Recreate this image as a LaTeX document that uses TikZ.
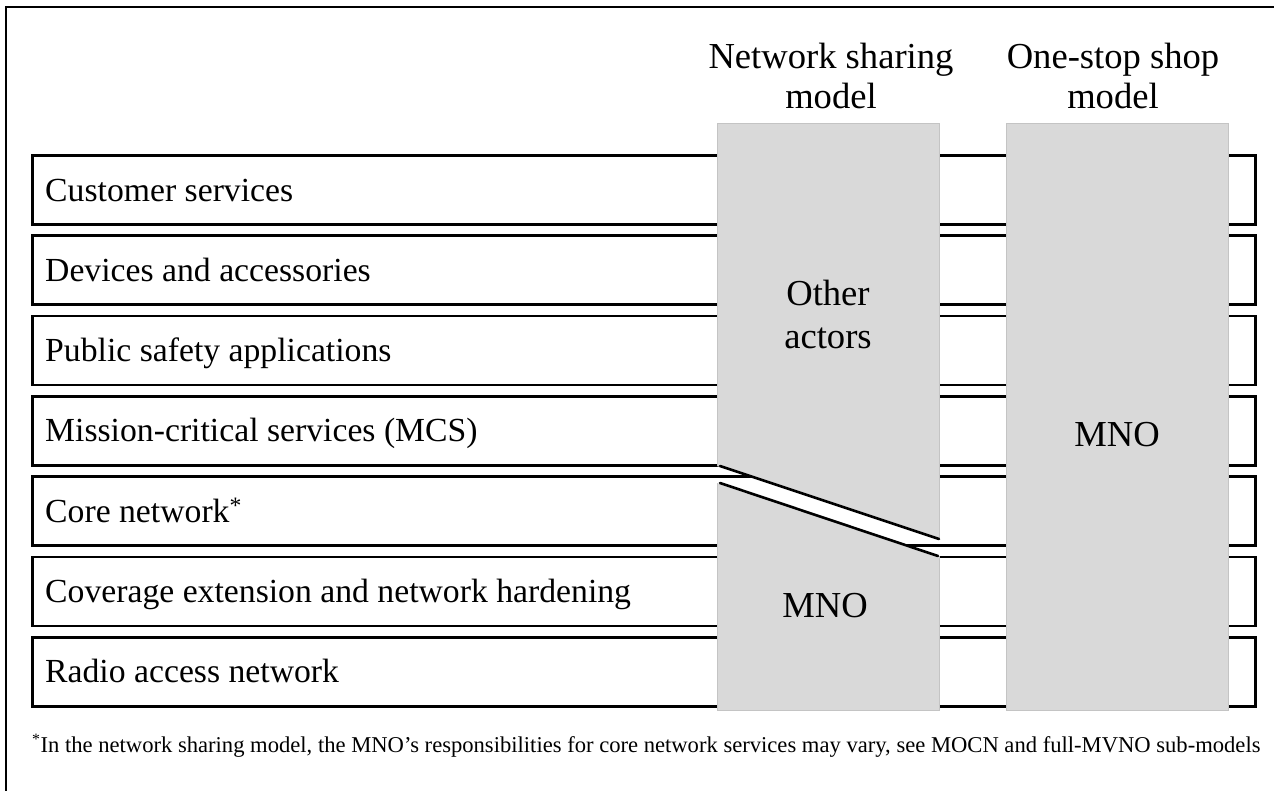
\documentclass[tikz,border=0pt]{standalone}
\usepackage{fontspec}
\setmainfont{Liberation Serif}
\definecolor{boxgray}{HTML}{D9D9D9}
\definecolor{boxedge}{HTML}{C4C4C4}
\begin{document}
\begin{tikzpicture}[x=1pt,y=-1pt,
  rowbox/.style={draw=black, line width=2.6pt, fill=white, anchor=north west,
    minimum width=1223pt, minimum height=69pt, inner sep=0pt},
  graybox/.style={fill=boxgray, draw=boxedge, line width=0.8pt},
  rowlabel/.style={anchor=base west, inner sep=0pt, font=\fontsize{33.7}{40}\selectfont},
  headlabel/.style={align=center, inner sep=0pt, anchor=base, font=\fontsize{36.6}{40}\selectfont},
  inlabel/.style={align=center, inner sep=0pt, anchor=base, font=\fontsize{36.6}{43}\selectfont},
  cutline/.style={line width=2.6pt, line cap=round},
]
\useasboundingbox (0,0) rectangle (1274,790);
% outer frame (only left and top edges fall inside the picture)
\draw[line width=2pt] (6,800) -- (6,7) -- (1290,7);
% rows
\foreach \i/\t in {1/{Customer services},2/{Devices and accessories},3/{Public safety applications},
  4/{Mission-critical services (MCS)},5/{Core network\textsuperscript{*}},
  6/{Coverage extension and network hardening},7/{Radio access network}}{
  \pgfmathsetmacro{\top}{154+80.33*(\i-1)}
  \node[rowbox] (r\i) at (31,\top) {};
  \node[rowlabel] (l\i) at (45,\top+47) {\t};
}
% network sharing column
\fill[boxgray] (717,123) -- (939,123) -- (939,539) -- (717,466) -- cycle;
\draw[boxedge, line width=0.8pt] (717,466) -- (717,123) -- (939,123) -- (939,539);
\fill[boxgray] (717,483) -- (939,556) -- (939,710) -- (717,710) -- cycle;
\draw[boxedge, line width=0.8pt] (939,556) -- (939,710) -- (717,710) -- (717,483);
\coordinate (cutA1) at (720,466);
\coordinate (cutA2) at (939,539);
\coordinate (cutB1) at (720,483);
\coordinate (cutB2) at (938,556);
\draw[cutline] (cutA1) -- (cutA2);
\draw[cutline] (cutB1) -- (cutB2);
% one-stop shop column
\node[graybox, anchor=north west, minimum width=222pt, minimum height=587pt, inner sep=0pt] (osbox) at (1006,123) {};
% labels inside columns
\node[inlabel] (other) at (828,348) {Other\\actors};
\node[inlabel] (mno1) at (825,617) {MNO};
\node[inlabel] (mno2) at (1117,446) {MNO};
% headers
\node[headlabel] (h1) at (831,108) {Network sharing\\model};
\node[headlabel] (h2) at (1113,108) {One-stop shop\\model};
% footnote
\node[anchor=base west, inner sep=0pt, font=\fontsize{22.6}{26}\selectfont] (foot) at (32,752)
  {\textsuperscript{*}In the network sharing model, the MNO’s responsibilities for core network services may vary, see MOCN and full-MVNO sub-models};
\end{tikzpicture}
\end{document}
